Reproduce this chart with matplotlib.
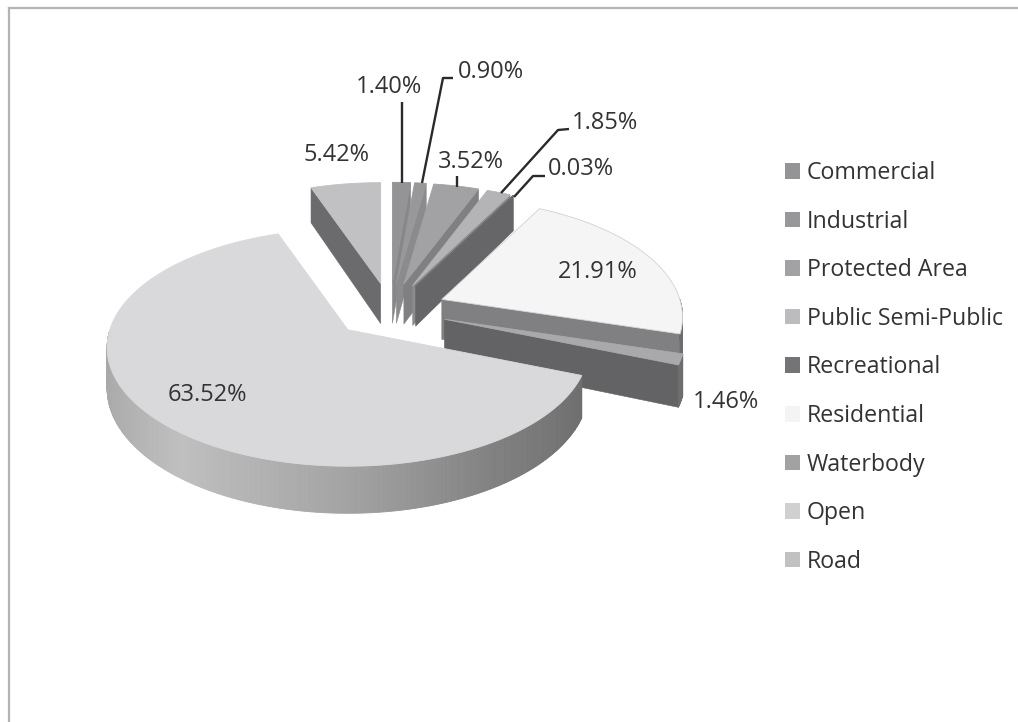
import numpy as np
import matplotlib
matplotlib.use("Agg")
import matplotlib.pyplot as plt
from matplotlib.patches import Patch

# Land use shares, clockwise from the top of the pie
categories = ["Commercial", "Industrial", "Protected Area", "Public Semi-Public",
              "Recreational", "Residential", "Waterbody", "Open", "Road"]
values = [1.40, 0.90, 3.52, 1.85, 0.03, 21.91, 1.46, 63.52, 5.42]
labels = ["1.40%", "0.90%", "3.52%", "1.85%", "0.03%", "21.91%", "1.46%", "63.52%", "5.42%"]

# Colours
top_colors = ["#949497", "#98989b", "#a2a2a5", "#b4b4b7", "#6e6e71",
              "#f5f5f5", "#a9a9ac", "#d9d9db", "#c1c1c3"]
side_colors = ["#87878a", "#8b8b8e", "#808083", "#8c8c8f", "#666669",
               "#808083", "#636366", "#808083", "#6b6b6e"]
legend_colors = ["#949497", "#98989b", "#a2a2a5", "#bcbcbf", "#747477",
                 "#f4f4f4", "#a2a2a5", "#d0d0d3", "#c1c1c3"]

# 3D look of the pie, in pixels
cx, cy = 390, 310
radius = 238
squash = 0.4875
persp = 0.15
depth = 40
explode = 57


def project(theta, r, ox, oy, drop=0.0):
    # theta is clockwise from the top, radians
    x = r * np.sin(theta)
    y = r * np.cos(theta)
    s = 1 / (1 + persp * y / radius)
    return ox + x * s, oy - y * squash * s + drop * s


def rim_shade(theta):
    # lighter on the left side of the front wall, dark on the right
    pos = np.sin(theta)
    return np.interp(pos, [-1.0, -0.62, 0.0, 0.55, 1.0], [0.66, 0.75, 0.64, 0.50, 0.42])


fig = plt.figure(figsize=(10.18, 7.22), dpi=100)
ax = fig.add_axes([0, 0, 1, 1])
ax.set_xlim(0, 1018)
ax.set_ylim(722, 0)
ax.axis("off")
plt.rcParams["font.family"] = ["Open Sans", "DejaVu Sans"]
txt = "#333335"

# frame of the chart area
ax.plot([9, 1018], [8, 8], color="#b4b4b4", lw=1.6)
ax.plot([9, 9], [8, 722], color="#b4b4b4", lw=1.6)

total = sum(values)
edges = np.cumsum([0] + values) / total * 2 * np.pi
mids = (edges[:-1] + edges[1:]) / 2

# back slices first
for i in sorted(range(len(values)), key=lambda k: -np.cos(mids[k])):
    t1, t2, mid = edges[i], edges[i + 1], mids[i]
    ox, oy = project(mid, explode, cx, cy)
    arc = np.linspace(t1, t2, max(3, int(np.degrees(t2 - t1) * 2)))

    # flat cut faces, only the ones turned to the viewer
    for t, seen in ((t1, np.sin(t1) < 0), (t2, np.sin(t2) > 0)):
        if seen:
            ex, ey = project(t, radius, ox, oy)
            bx, by = project(t, radius, ox, oy, depth)
            ax.fill([ox, ex, bx, ox], [oy, ey, by, oy + depth], color=side_colors[i], lw=0.4)

    # outer wall, shaded strip by strip
    for a, b in zip(arc[:-1], arc[1:]):
        if np.cos((a + b) / 2) < 0:
            xa, ya = project(a, radius, ox, oy)
            xb, yb = project(b, radius, ox, oy)
            xc, yc = project(b, radius, ox, oy, depth)
            xd, yd = project(a, radius, ox, oy, depth)
            shade = str(rim_shade((a + b) / 2))
            ax.fill([xa, xb, xc, xd], [ya, yb, yc, yd], color=shade, lw=0.6)

    # top surface
    ax_x, ax_y = project(arc, radius, ox, oy)
    ax.fill(np.r_[ox, ax_x], np.r_[oy, ax_y], facecolor=top_colors[i],
            edgecolor="#d2d2d2" if categories[i] == "Residential" else top_colors[i], lw=0.6)

# leader lines
leaders = [
    ([402, 402], [102, 183]),
    ([453, 443, 422], [78, 78, 183]),
    ([457, 457], [176, 187]),
    ([569, 558, 501], [129, 130, 193]),
    ([545, 533, 514], [176, 176, 197]),
]
for lx, ly in leaders:
    ax.plot(lx, ly, color="#2a2a2a", lw=1.7, solid_capstyle="butt")

# data labels
label_pos = [(389, 87), (491, 72), (471, 162), (605, 123), (581, 169),
             (598, 272), (726, 402), (207, 395), (337, 155)]
for text, (lx, ly) in zip(labels, label_pos):
    ax.text(lx, ly, text, ha="center", va="center", fontsize=17, color=txt)

# legend
handles = [Patch(facecolor=c, edgecolor="none") for c in legend_colors]
ax.legend(handles, categories, loc="upper left", bbox_to_anchor=(785, 161),
          bbox_transform=ax.transData, frameon=False, fontsize=16.7,
          labelspacing=1.06, handlelength=0.65, handleheight=0.65, handletextpad=0.3,
          labelcolor=txt, borderpad=0, borderaxespad=0)

fig.savefig("out.png", dpi=100)
